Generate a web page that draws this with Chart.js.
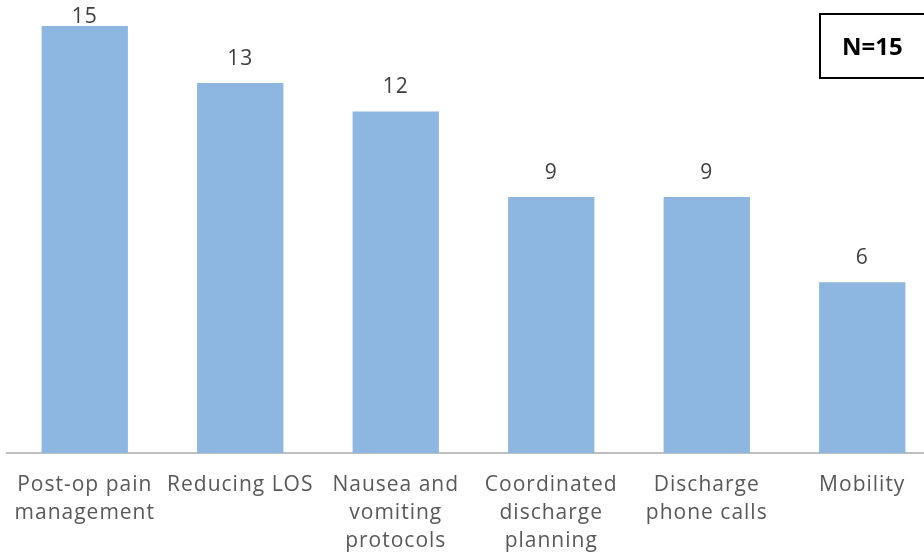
<!DOCTYPE html>
<html>
<head>
<meta charset="utf-8">
<script src="https://cdn.jsdelivr.net/npm/chart.js@4/dist/chart.umd.min.js"></script>
<style>
  html, body { margin: 0; padding: 0; overflow: hidden; background: #fff; }
  #wrap { position: relative; width: 924px; height: 558px; overflow: hidden; }
  #nbox {
    position: absolute; left: 819px; top: 13px; width: 110px; height: 62px;
    border: 2px solid #000; font: bold 24px "Open Sans", sans-serif;
    line-height: 62px; padding-left: 21px; box-sizing: content-box; color: #000;
  }
</style>
</head>
<body>
<div id="wrap">
  <canvas id="chart" width="940" height="575"></canvas>
  <div id="nbox">N=15</div>
</div>
<script>
const categories = [
  ['Post-op pain', 'management'],
  ['Reducing LOS'],
  ['Nausea and', 'vomiting', 'protocols'],
  ['Coordinated', 'discharge', 'planning'],
  ['Discharge', 'phone calls'],
  ['Mobility']
];
const counts = [15, 13, 12, 9, 9, 6];

// slightly wider letter spacing, closer to the original font
const spacing = {
  id: 'spacing',
  beforeDraw(chart) { chart.ctx.letterSpacing = '1px'; },
  afterDraw(chart) { chart.ctx.letterSpacing = '0px'; }
};

// draws the value above each bar (kept inside the top edge like the original)
const valueLabels = {
  id: 'valueLabels',
  afterDatasetsDraw(chart) {
    const ctx = chart.ctx;
    const meta = chart.getDatasetMeta(0);
    ctx.save();
    ctx.font = '21px "Open Sans", sans-serif';
    ctx.fillStyle = '#404040';
    ctx.textAlign = 'center';
    ctx.textBaseline = 'alphabetic';
    meta.data.forEach((bar, i) => {
      ctx.fillText(counts[i], bar.x, Math.max(bar.y - 18, 23));
    });
    ctx.restore();
  }
};

new Chart(document.getElementById('chart').getContext('2d'), {
  type: 'bar',
  data: {
    labels: categories,
    datasets: [{
      data: counts,
      backgroundColor: '#8DB6E1',
      categoryPercentage: 0.555,
      barPercentage: 1
    }]
  },
  options: {
    responsive: false,
    animation: false,
    layout: { padding: { top: 26, left: 7, right: 0, bottom: 2 } },
    plugins: {
      legend: { display: false },
      tooltip: { enabled: false }
    },
    scales: {
      x: {
        grid: { display: false, drawTicks: false },
        border: { color: '#BFBFBF', width: 2 },
        ticks: {
          color: '#595959',
          font: { family: '"Open Sans", sans-serif', size: 21, lineHeight: 1.33 },
          padding: 18,
          maxRotation: 0,
          autoSkip: false
        }
      },
      y: {
        display: false,
        min: 0,
        max: 15
      }
    }
  },
  plugins: [spacing, valueLabels]
});
</script>
</body>
</html>
